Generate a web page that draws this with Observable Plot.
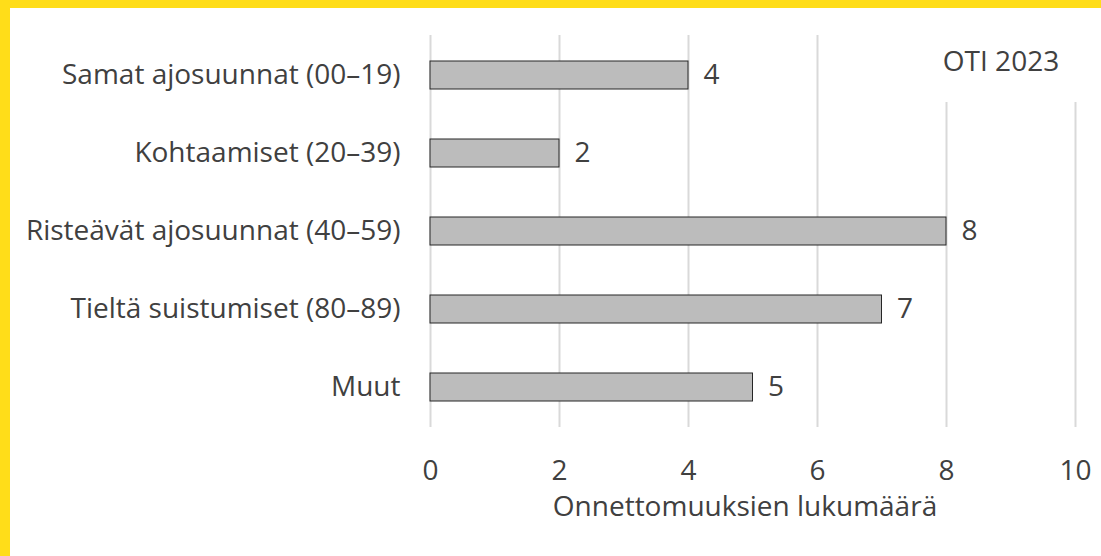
<!DOCTYPE html>
<html>
<head>
<meta charset="utf-8">
<script src="https://cdn.jsdelivr.net/npm/d3@7"></script>
<script src="https://cdn.jsdelivr.net/npm/@observablehq/plot@0.6"></script>
<style>
  html, body { margin: 0; padding: 0; background: #FFDD19; width: 1101px; height: 556px; overflow: hidden; }
  #panel { position: absolute; left: 10px; top: 8px; width: 1091px; height: 548px; background: #fff; }
  #badge { position: absolute; left: 911px; top: 26px; width: 160px; height: 68px; background: #fff;
           font-family: "Open Sans", sans-serif; font-size: 28px; color: #404040; text-align: center; line-height: 52px; }
  svg { font-family: "Open Sans", sans-serif; }
</style>
</head>
<body>
<div id="panel"></div>
<script>
const categories = ["Samat ajosuunnat (00–19)", "Kohtaamiset (20–39)", "Risteävät ajosuunnat (40–59)", "Tieltä suistumiset (80–89)", "Muut"];
const values = [4, 2, 8, 7, 5];
const xTicks = [0, 2, 4, 6, 8, 10];
const xLabel = "Onnettomuuksien lukumäärä";
const badgeText = "OTI 2023";

const data = categories.map((c, i) => ({category: c, value: values[i]}));

const chart = Plot.plot({
  width: 1091,
  height: 548,
  marginLeft: 420,
  marginRight: 26,
  marginTop: 27,
  marginBottom: 129,
  style: {color: "#404040", fontSize: "28px", fontFamily: "'Open Sans', sans-serif", background: "#fff"},
  x: {domain: [0, 10], ticks: xTicks},
  y: {domain: categories, paddingInner: 0.64, paddingOuter: 0.32, label: null},
  marks: [
    Plot.gridX(xTicks, {stroke: "#d9d9d9", strokeOpacity: 1, strokeWidth: 2}),
    Plot.barX(data, {x: "value", y: "category", fill: "#bcbcbc", stroke: "#262626", strokeWidth: 1}),
    Plot.text(data, {x: "value", y: "category", text: d => String(d.value), dx: 15, textAnchor: "start", fontSize: 28, fill: "#404040"}),
    Plot.axisX({ticks: xTicks, tickSize: 0, tickPadding: 33, label: null, fontSize: 28}),
    Plot.axisY({tickSize: 0, tickPadding: 30, label: null, fontSize: 28}),
    Plot.text([xLabel], {text: d => d, frameAnchor: "bottom", dx: -8, dy: 88, fontSize: 28, fill: "#404040"})
  ]
});
const panel = document.getElementById("panel");
panel.appendChild(chart);
const badge = document.createElement("div");
badge.id = "badge";
badge.textContent = badgeText;
panel.appendChild(badge);
</script>
</body>
</html>
